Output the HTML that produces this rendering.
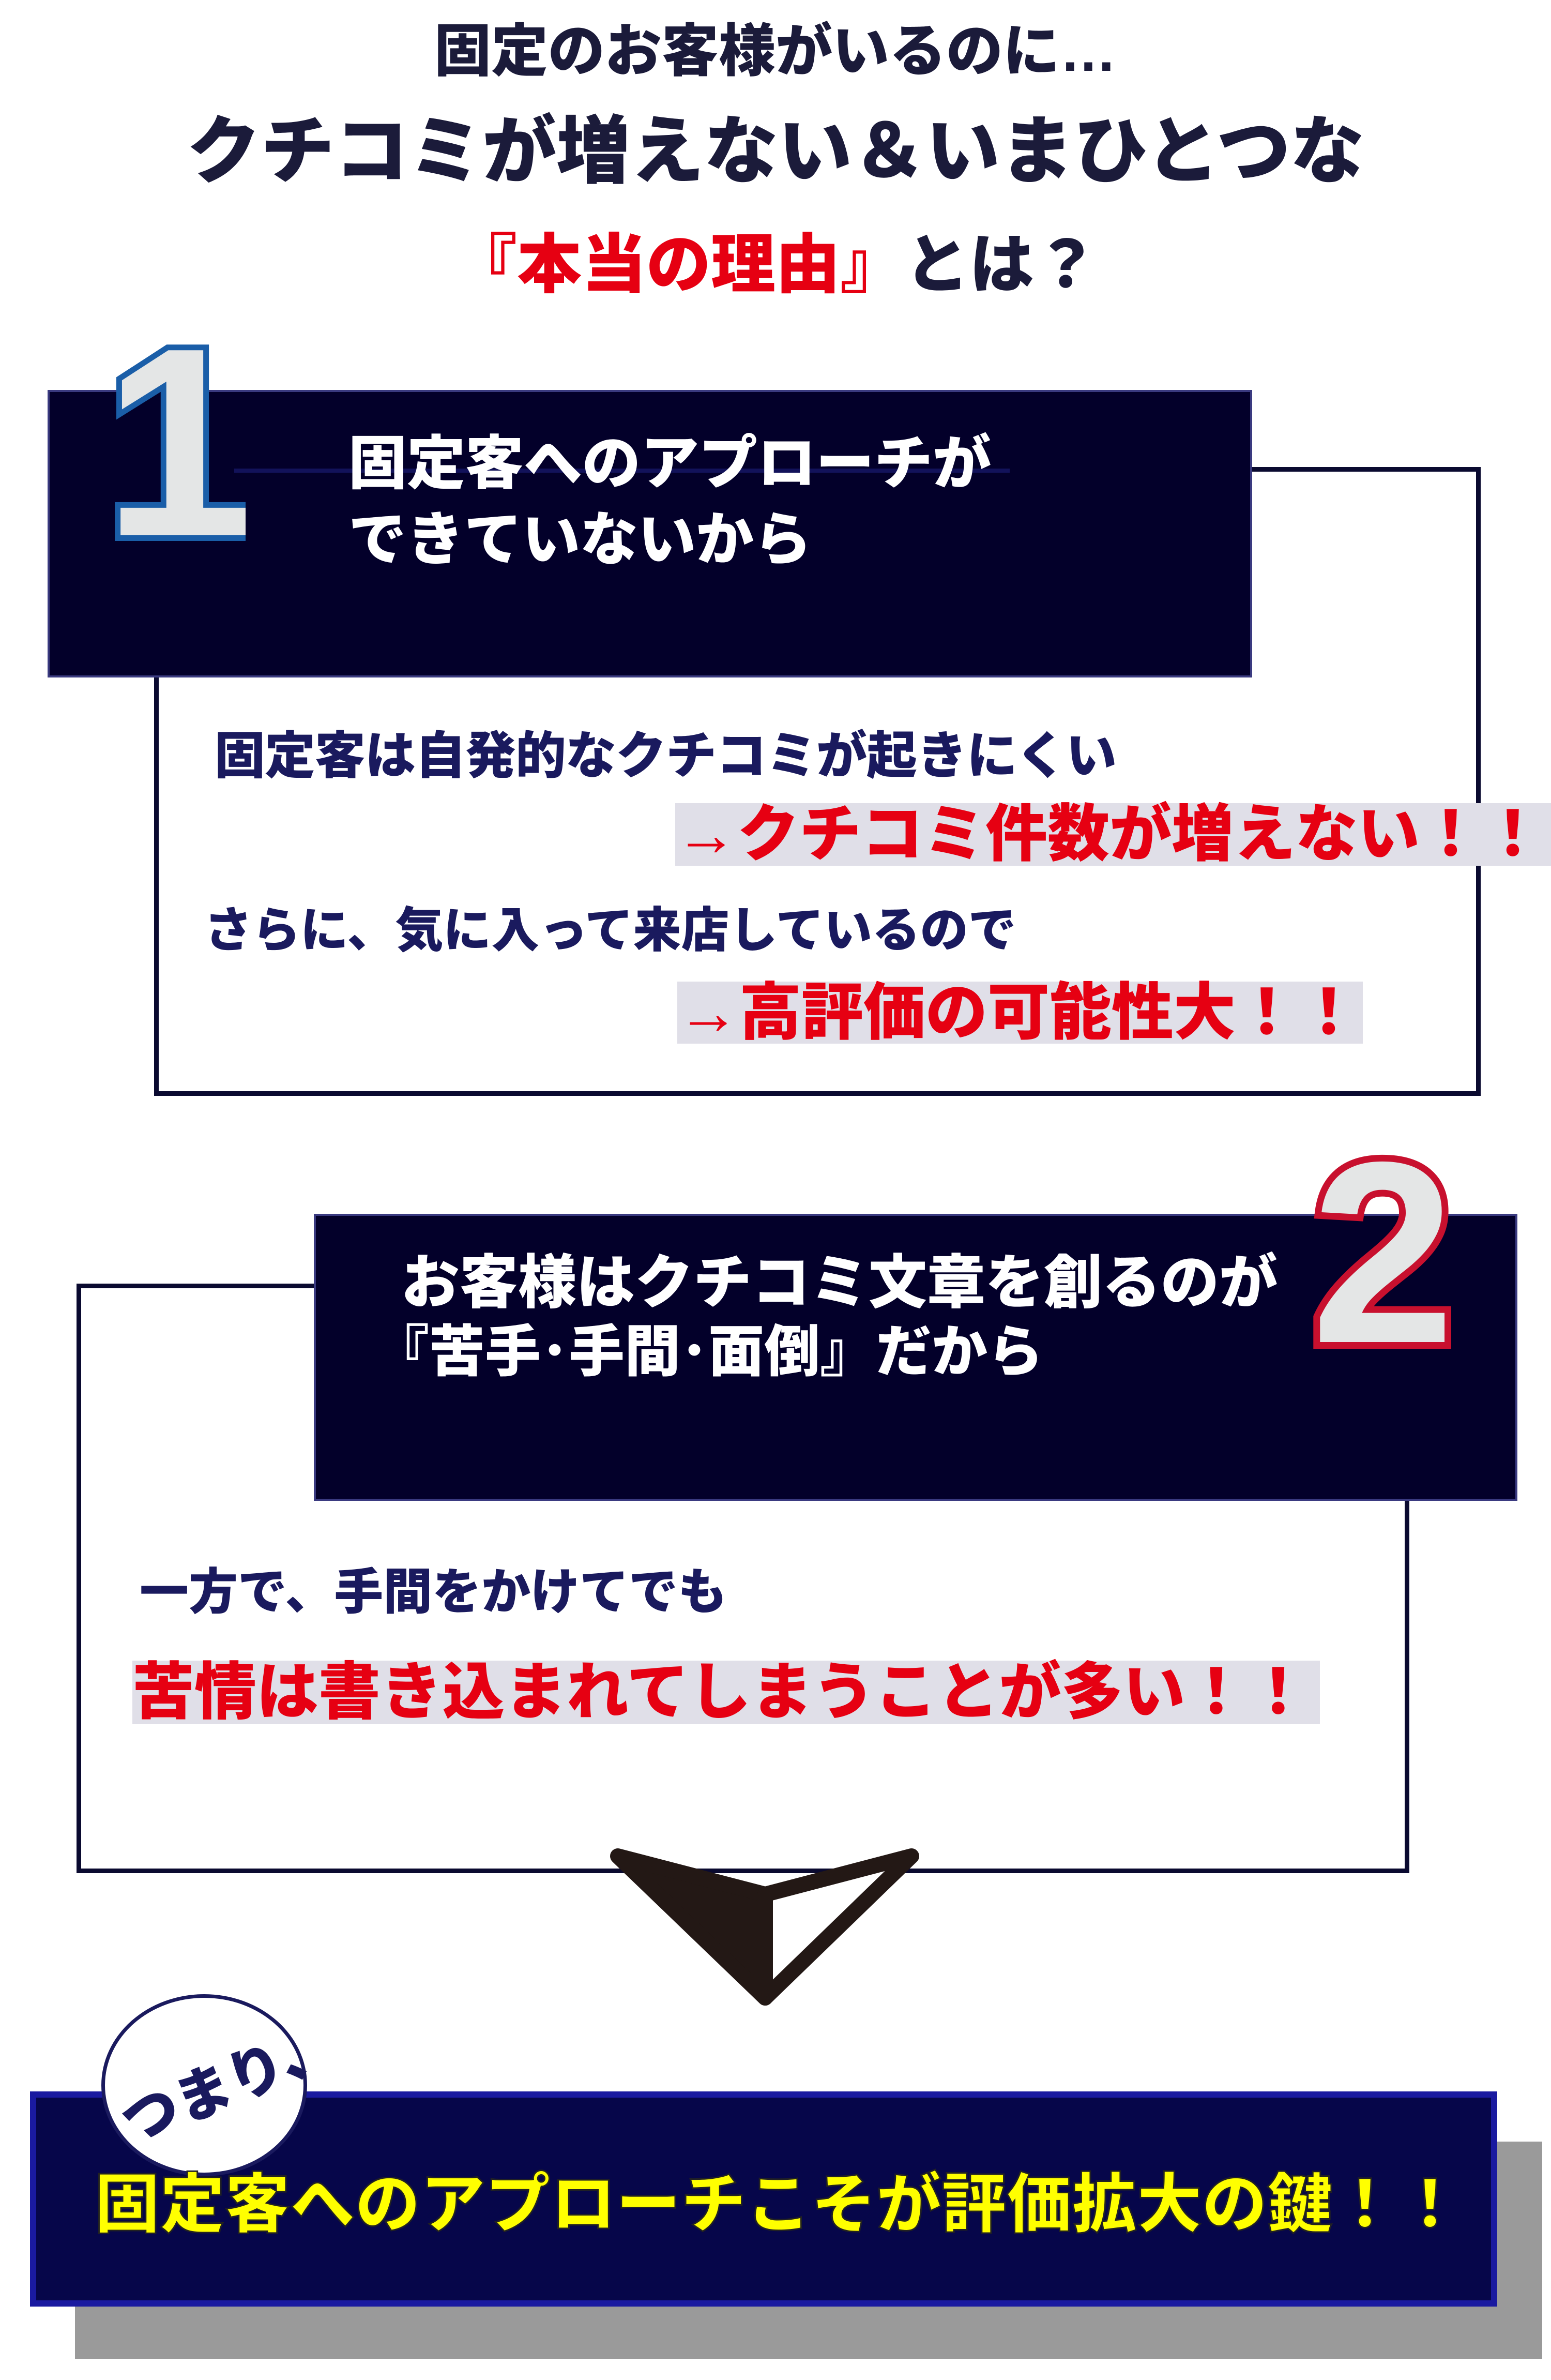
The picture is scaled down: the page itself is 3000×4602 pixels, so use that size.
<!DOCTYPE html>
<html><head><meta charset="utf-8"><style>
*{margin:0;padding:0;box-sizing:border-box}
body{width:3000px;height:4602px;background:#fff;position:relative;overflow:hidden;font-family:"Liberation Sans","Noto Sans CJK JP",sans-serif;font-weight:900}
.a{position:absolute;white-space:nowrap;line-height:1}
</style></head><body>
<div class="a" style="left:0;width:3000px;top:45px;text-align:center;font-size:110px;color:#1b1b3a">固定のお客様がいるのに…</div>
<div class="a" style="left:0;width:3000px;top:222px;text-align:center;font-size:143px;color:#1b1b3a">クチコミが増えない＆いまひとつな</div>
<div class="a" style="left:0;width:3000px;top:450px;text-align:center;font-size:125px;color:#1b1b3a"><span style="color:#e60012">『本当の理由』</span>とは？</div>

<!-- box 1 -->
<div class="a" style="left:298px;top:903px;width:2566px;height:1216px;border:9px solid #0a0a30"></div>
<div class="a" style="left:92px;top:754px;width:2330px;height:556px;background:#03002a;border:4px solid #3a3a80"></div>
<div class="a" style="left:453px;top:906px;width:1500px;height:8px;background:#12125a"></div>
<svg class="a" style="left:215px;top:630px" width="260" height="430"><text x="130" y="405" text-anchor="middle" font-size="520" font-weight="900" font-family="Liberation Sans" fill="#e4e6e6" stroke="#1a5ea8" stroke-width="22" paint-order="stroke">1</text></svg>
<div class="a" style="left:674px;top:840px;font-size:113px;color:#fff">固定客へのアプローチが</div>
<div class="a" style="left:674px;top:988px;font-size:112px;color:#fff">できていないから</div>
<div class="a" style="left:415px;top:1412px;font-size:98px;color:#1a1a5e;letter-spacing:-1px">固定客は自発的なクチコミが起きにくい</div>
<div class="a" style="left:1306px;top:1553px;width:1694px;height:121px;background:#e0dfe8"></div>
<div class="a" style="left:1306px;top:1553px;font-size:120px;color:#e60012">→クチコミ件数が増えない！！</div>
<div class="a" style="left:395px;top:1753px;font-size:93px;color:#1a1a5e">さらに、気に入って来店しているので</div>
<div class="a" style="left:1310px;top:1898px;width:1326px;height:120px;background:#e0dfe8"></div>
<div class="a" style="left:1310px;top:1898px;font-size:120px;color:#e60012">→高評価の可能性大！！</div>

<!-- box 2 -->
<div class="a" style="left:148px;top:2482px;width:2578px;height:1140px;border:9px solid #0a0a30"></div>
<div class="a" style="left:607px;top:2347px;width:2328px;height:555px;background:#03002a;border:4px solid #3a3a80"></div>
<svg class="a" style="left:2510px;top:2190px" width="330" height="430"><text x="165" y="405" text-anchor="middle" font-size="500" font-weight="900" font-family="Liberation Sans" fill="#e4e6e6" stroke="#c8102e" stroke-width="26" paint-order="stroke">2</text></svg>
<div class="a" style="left:776px;top:2424px;font-size:113px;color:#fff">お客様はクチコミ文章を創るのが</div>
<div class="a" style="left:722px;top:2560px;font-size:108px;color:#fff">『苦手･手間･面倒』だから</div>
<div class="a" style="left:270px;top:3032px;font-size:95px;color:#1a1a5e">一方で、手間をかけてでも</div>
<div class="a" style="left:256px;top:3211px;width:2297px;height:123px;background:#e0dfe8"></div>
<div class="a" style="left:256px;top:3212px;font-size:120px;color:#e60012">苦情は書き込まれてしまうことが多い！！</div>

<!-- arrow -->
<svg class="a" style="left:0;top:0" width="3000" height="4602">
<polygon points="1195,3589 1480,3663 1480,3863" fill="#231815" stroke="#231815" stroke-width="30" stroke-linejoin="round"/>
<polygon points="1480,3663 1763,3589 1480,3863" fill="#fff" stroke="#231815" stroke-width="30" stroke-linejoin="round"/>
</svg>

<!-- bottom -->
<div class="a" style="left:145px;top:4141px;width:2838px;height:420px;background:#9a9a9a"></div>
<div class="a" style="left:58px;top:4044px;width:2838px;height:416px;background:#06064a;border:12px solid #1a1aa0"></div>
<div class="a" style="left:196px;top:3856px;width:398px;height:352px;border-radius:50%;background:#fff;border:7px solid #1a1a5e"></div>
<div class="a" style="left:225px;top:3975px;font-size:110px;color:#1a1a5e;transform:rotate(-22deg);transform-origin:center">つまり、</div>
<div class="a" style="left:183px;top:4200px;font-size:126px;color:#ffff00;-webkit-text-stroke:3px #222">固定客へのアプローチこそが評価拡大の鍵！！</div>
</body></html>
